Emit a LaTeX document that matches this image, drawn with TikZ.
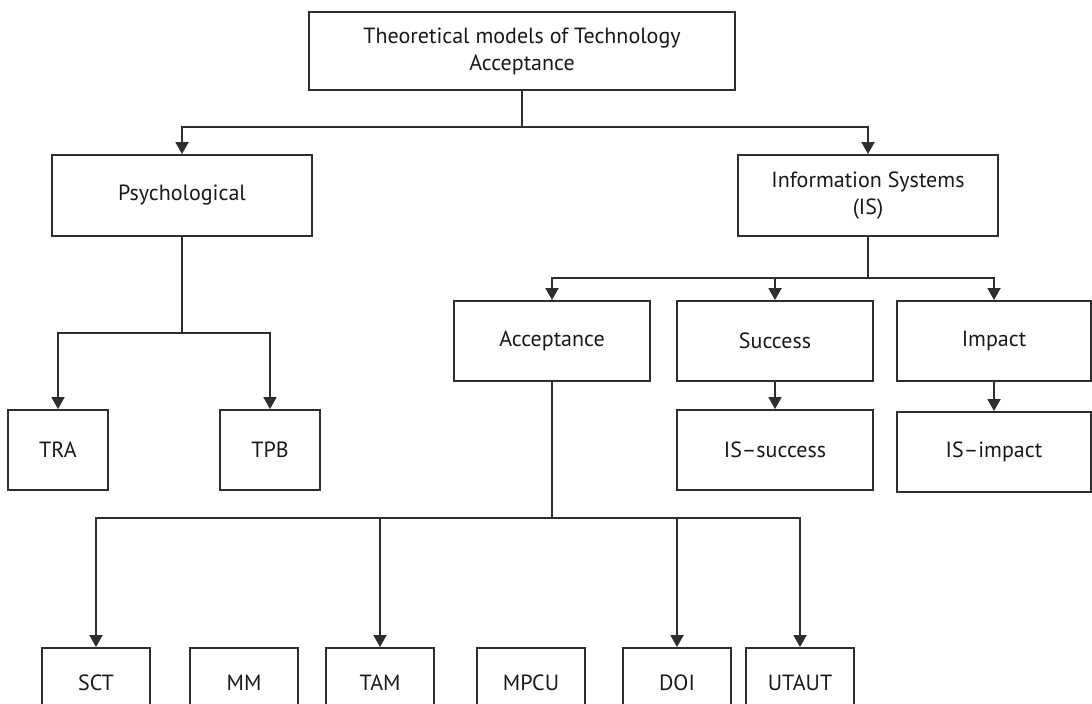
\documentclass[tikz,border=0pt]{standalone}
\usepackage{fontspec}
\setsansfont{PT Sans}
\usetikzlibrary{arrows.meta}

\begin{document}
\begin{tikzpicture}[x=0.5pt,y=-0.5pt,font=\sffamily\fontsize{11}{13.5}\selectfont,
  >={Triangle[length=6pt,width=6.5pt]},
  box/.style={draw=black!82,line width=0.95pt,align=center,inner sep=0pt,minimum height=40pt,text=black!90},
  leaf/.style={box,minimum width=54pt,minimum height=35pt},
  link/.style={line width=0.95pt,black!82},
  flow/.style={link,->}]
\useasboundingbox (0,0) rectangle (1092,704);
\clip (0,0) rectangle (1092,704);

\node[box,minimum width=213pt,minimum height=39pt] (theory) at (522,51) {Theoretical models of Technology\\Acceptance};
\node[box,minimum width=130pt,minimum height=40.5pt] (psych) at (182,195.5) {Psychological};
\node[box,minimum width=130pt,minimum height=40.5pt] (infosys) at (868,195.5) {Information Systems\\(IS)};

\node[box,minimum width=50pt] (tra) at (58,450) {TRA};
\node[box,minimum width=50pt] (tpb) at (270,450) {TPB};

\node[box,minimum width=98pt] (accept) at (552,341) {Acceptance};
\node[box,minimum width=98pt] (success) at (775,341) {Success};
\node[box,minimum width=97pt] (impact) at (994,341) {Impact};
\node[box,minimum width=98pt] (issuccess) at (775,450) {IS–success};
\node[box,minimum width=97pt] (isimpact) at (994,452) {IS–impact};

% acceptance models
\foreach \name/\txt/\x in {sct/SCT/96,mm/MM/244,tam/TAM/380,mpcu/MPCU/531,doi/DOI/677,utaut/UTAUT/800}
  \node[leaf] (\name) at (\x,683) {\txt};

\draw[link] (theory.south) -- ++(0,36) coordinate (topsplit);
\draw[flow] (topsplit) -| (psych.north);
\draw[flow] (topsplit) -| (infosys.north);

\draw[link] (psych.south) -- ++(0,96) coordinate (psysplit);
\draw[flow] (psysplit) -| (tra.north);
\draw[flow] (psysplit) -| (tpb.north);

\draw[link] (infosys.south) -- ++(0,41) coordinate (issplit);
\foreach \n in {accept,success,impact}
  \draw[flow] (issplit) -| (\n.north);
\draw[flow] (success) -- (issuccess);
\draw[flow] (impact) -- (isimpact);

\draw[link] (accept.south) -- ++(0,136) coordinate (accsplit);
\foreach \n in {sct,tam,doi,utaut}
  \draw[flow] (accsplit) -| (\n.north);
\end{tikzpicture}
\end{document}
